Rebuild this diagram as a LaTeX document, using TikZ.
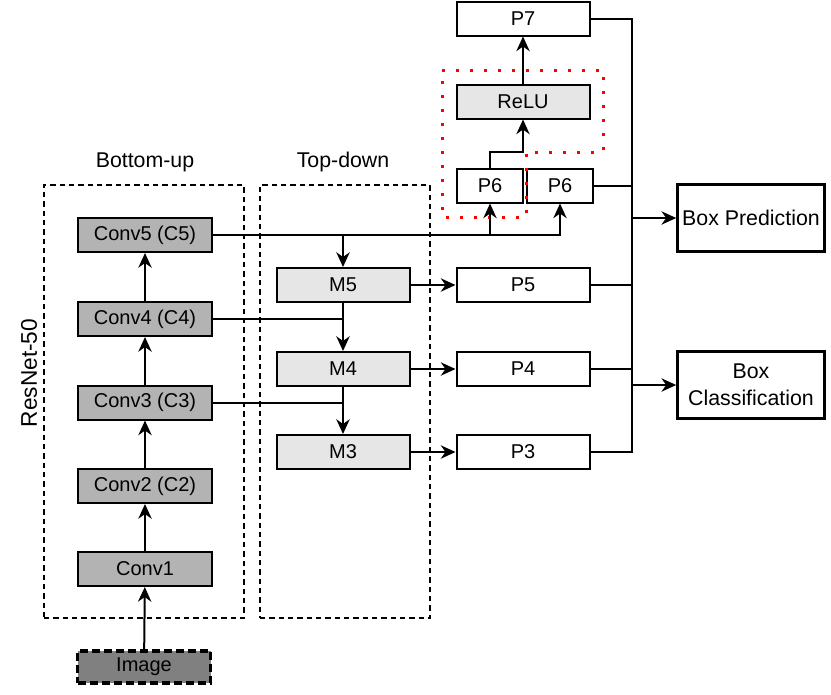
\documentclass[tikz,border=0pt]{standalone}
\usepackage{fontspec}
\setmainfont{Liberation Sans}
\usetikzlibrary{arrows.meta}
\definecolor{convfill}{HTML}{B3B3B3}
\definecolor{mergefill}{HTML}{E6E6E6}
\definecolor{imgfill}{HTML}{808080}
\definecolor{dotred}{HTML}{FF0000}
\tikzset{box/.style={draw=black,line width=1.5pt,fill=white,minimum width=99.75pt,minimum height=25.5pt,inner sep=0pt,font=\fontsize{15}{18}\selectfont}, conv/.style={box,fill=convfill,minimum width=101pt}, merge/.style={box,fill=mergefill}, small/.style={box,minimum width=49.5pt}, img/.style={box,fill=imgfill,line width=2.5pt,dash pattern=on 6pt off 3pt,minimum height=24pt}, head/.style={box,line width=2.25pt,minimum width=110pt,minimum height=50pt,align=center,font=\fontsize{16}{20}\selectfont}, group/.style={draw=black,line width=0.9pt,dash pattern=on 4pt off 3pt,minimum height=324.75pt,inner sep=0pt}, caption/.style={font=\fontsize{16}{19}\selectfont,inner sep=0pt}, wire/.style={line width=1.5pt}, flow/.style={-{Stealth[length=11pt,width=10pt,inset=3.5pt]},line width=1.5pt}, hilite/.style={draw=dotred,line width=2.25pt,dash pattern=on 2.25pt off 8.25pt}}
\begin{document}
\begin{tikzpicture}[x=0.75pt,y=-0.75pt]
\useasboundingbox (0,0) rectangle (831,694);
% groups
\node[group,minimum width=150pt] (bu) at (144,401.5) {};
\node[group,minimum width=127.5pt] (td) at (345,401.5) {};
\node[caption] (bul) at (145,162) {Bottom-up};
\node[caption] (tdl) at (343,162) {Top-down};
\node[caption,rotate=90,font=\fontsize{17}{20}\selectfont] (res) at (29,373) {ResNet-50};
% backbone
\node[conv] (c5) at (145,235) {Conv5 (C5)};
\node[conv] (c4) at (145,319) {Conv4 (C4)};
\node[conv] (c3) at (145,402.5) {Conv3 (C3)};
\node[conv] (c2) at (145,486) {Conv2 (C2)};
\node[conv] (c1) at (145,569) {Conv1};
\node[img] (img) at (144,667) {Image};
\draw[flow] (img) -- (c1);
\draw[flow] (c1) -- (c2);
\draw[flow] (c2) -- (c3);
\draw[flow] (c3) -- (c4);
\draw[flow] (c4) -- (c5);
% top-down
\node[merge] (m5) at (343,285) {M5};
\node[merge] (m4) at (343,369) {M4};
\node[merge] (m3) at (343,452) {M3};
\node[box] (p5) at (523,285) {P5};
\node[box] (p4) at (523,369) {P4};
\node[box] (p3) at (523,452) {P3};
\node[small] (p6a) at (490,185.5) {P6};
\node[small] (p6b) at (560,185.5) {P6};
\node[merge] (relu) at (523,101.5) {ReLU};
\node[box] (p7) at (523,18.5) {P7};
\draw[hilite] (442,70) -- (603,70) -- (603,152) -- (526,152) -- (526,217) -- (442,217) -- cycle;
\draw[flow] (c5.east) -| (p6b.south);
\draw[flow] (c5.east -| p6a.south) -- (p6a.south);
\draw[flow] (c5.east -| m5.north) -- (m5.north);
\draw[wire] (c4.east) -- (c4.east -| m5.south);
\draw[wire] (c3.east) -- (c3.east -| m4.south);
\draw[flow] (m5) -- (m4);
\draw[flow] (m4) -- (m3);
\draw[flow] (m5) -- (p5);
\draw[flow] (m4) -- (p4);
\draw[flow] (m3) -- (p3);
\draw[flow] (p6a.north) -- ++(0,-16) -| (relu.south);
\draw[flow] (relu) -- (p7);
% heads
\node[head] (pred) at (751,218) {Box Prediction};
\node[head] (cls) at (751,385) {Box\\Classification};
\coordinate (bb) at (632,452);
\draw[wire] (p7.east) -| (bb) -- (p3.east);
\foreach \n in {p6b,p5,p4} \draw[wire] (\n.east) -- (\n.east -| bb);
\draw[flow] (pred.west -| bb) -- (pred.west);
\draw[flow] (cls.west -| bb) -- (cls.west);
\end{tikzpicture}
\end{document}
